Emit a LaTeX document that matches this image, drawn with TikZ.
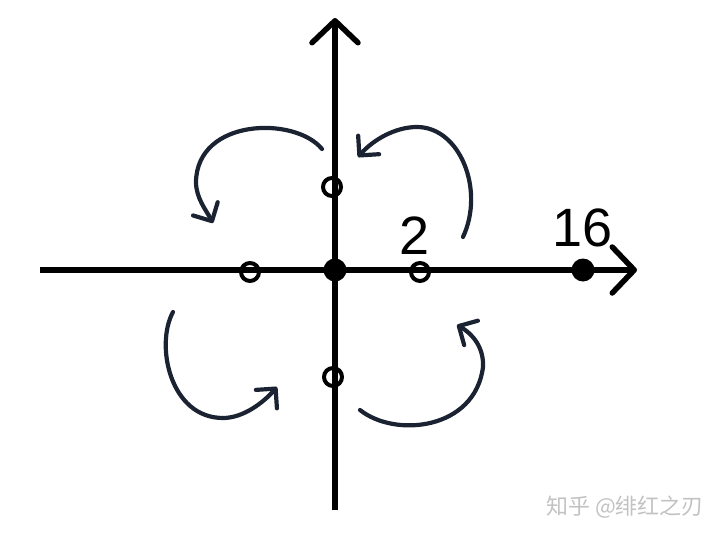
\documentclass[tikz,border=0pt]{standalone}
\usepackage{fontspec}
\setmainfont{Liberation Sans}
\newfontfamily\cjk{Noto Sans CJK SC}
\usetikzlibrary{arrows.meta}
\definecolor{navy}{HTML}{1B2332}
\definecolor{wmgray}{HTML}{C2C2C2}
\begin{document}
\begin{tikzpicture}[x=1pt,y=1pt,
    axis/.style={line width=5.5pt, -{Straight Barb[length=22pt,width=46pt,line cap=round,round]}},
    opendot/.style={circle, draw, line width=4pt, minimum size=18pt, inner sep=0pt},
    fulldot/.style={circle, fill, minimum size=23pt, inner sep=0pt},
    turn/.style={navy, line width=4.2pt, line cap=round, -{Straight Barb[length=14pt,width=28pt,line cap=round,round]}}]
    \useasboundingbox (-335,-266) rectangle (385,270);
    % axes
    \coordinate (west) at (-295,0);
    \coordinate (east) at (302,0);
    \coordinate (south) at (0,-240);
    \coordinate (north) at (0,252);
    \draw[axis] (west) -- (east);
    \draw[axis] (south) -- (north);
    % points
    \node[fulldot] (o) at (0,0) {};
    \node[fulldot] (p16) at (248,0) {};
    \node[opendot] (pl) at (-85,-2) {};
    \node[opendot] (pr) at (85,-2) {};
    \node[opendot] (pu) at (-3,83) {};
    \node[opendot] (pd) at (-2,-107) {};
    \node[font=\fontsize{54}{54}\selectfont] (l2) at (80,34) {2};
    \node[font=\fontsize{54}{54}\selectfont] (l16) at (248,42) {16};
    % turning arrows
    \draw[turn] (-13,121) .. controls (-40,154) and (-138,152) .. (-139,88)
                          .. controls (-139,72) and (-129,60) .. (-122,47);
    \draw[turn] (128,33) .. controls (150,80) and (125,143) .. (82,143)
                         .. controls (60,143) and (38,130) .. (23,113);
    \draw[turn] (-162,-42) .. controls (-180,-75) and (-165,-148) .. (-112,-148)
                           .. controls (-92,-148) and (-72,-133) .. (-58,-117);
    \draw[turn] (25,-140) .. controls (60,-168) and (140,-160) .. (148,-97)
                          .. controls (149,-78) and (138,-64) .. (122,-55);
    \node[wmgray, font=\cjk\fontsize{22}{22}\selectfont] (wm) at (290,-237) {知乎 @绯红之刃};
\end{tikzpicture}
\end{document}
